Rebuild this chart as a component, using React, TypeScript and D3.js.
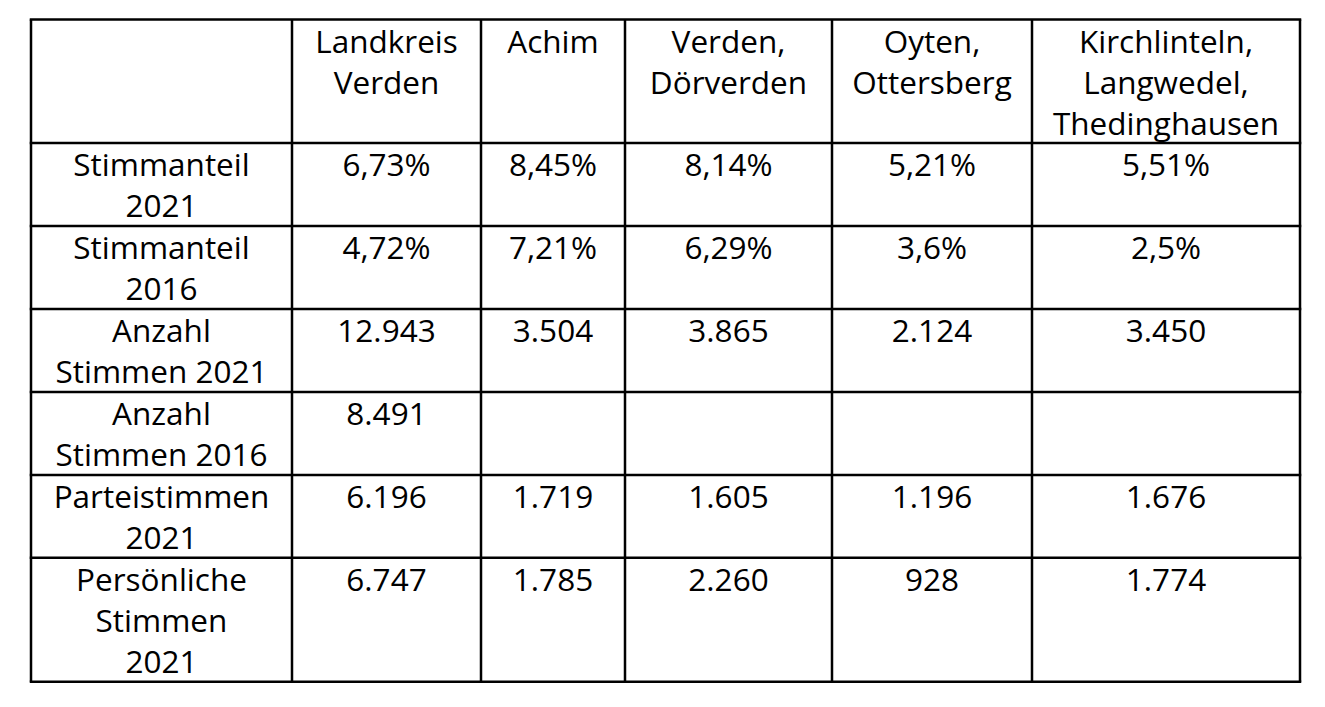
import { useEffect, useRef } from 'react';
import * as d3 from 'd3';

// header texts, one entry per column (lines split by \n)
const columnHeads = ['', 'Landkreis\nVerden', 'Achim', 'Verden,\nDörverden', 'Oyten,\nOttersberg', 'Kirchlinteln,\nLangwedel,\nThedinghausen'];
const rowHeads = ['Stimmanteil\n2021', 'Stimmanteil\n2016', 'Anzahl\nStimmen 2021', 'Anzahl\nStimmen 2016', 'Parteistimmen\n2021', 'Persönliche\nStimmen\n2021'];

const stimmanteil2021 = ['6,73%', '8,45%', '8,14%', '5,21%', '5,51%'];
const stimmanteil2016 = ['4,72%', '7,21%', '6,29%', '3,6%', '2,5%'];
const stimmen2021 = ['12.943', '3.504', '3.865', '2.124', '3.450'];
const stimmen2016 = ['8.491', '', '', '', ''];
const parteistimmen2021 = ['6.196', '1.719', '1.605', '1.196', '1.676'];
const persoenlich2021 = ['6.747', '1.785', '2.260', '928', '1.774'];

const rows = [stimmanteil2021, stimmanteil2016, stimmen2021, stimmen2016, parteistimmen2021, persoenlich2021];

export default function App() {
  const ref = useRef<SVGSVGElement>(null);

  useEffect(() => {
    const svg = d3.select(ref.current);
    svg.selectAll('*').remove();

    const left = 31, top = 19.5;
    const colW = [261, 189, 144, 207, 200, 268];
    const rowH = [123.5, 83, 83, 83, 83, 82.7, 124];
    const xs = [left, ...Array.from(d3.cumsum(colW), d => left + d)];
    const ys = [top, ...Array.from(d3.cumsum(rowH), d => top + d)];
    const lineH = 41;
    const firstBase = 33;

    const g = svg.append('g')
      .attr('font-family', '"Open Sans", sans-serif')
      .attr('font-size', 31.5)
      .attr('fill', '#000');

    // table contents: header row then data rows
    const cells: { c: number; r: number; text: string }[] = [];
    columnHeads.forEach((t, c) => cells.push({ c, r: 0, text: t }));
    rows.forEach((vals, i) => {
      cells.push({ c: 0, r: i + 1, text: rowHeads[i] });
      vals.forEach((v, j) => cells.push({ c: j + 1, r: i + 1, text: v }));
    });

    const txt = g.selectAll('text')
      .data(cells)
      .join('text')
      .attr('text-anchor', 'middle')
      .attr('x', d => (xs[d.c] + xs[d.c + 1]) / 2)
      .attr('y', d => ys[d.r] + firstBase);
    txt.selectAll('tspan')
      .data(d => d.text.split('\n').map((s, k) => ({ s, k, x: (xs[d.c] + xs[d.c + 1]) / 2 })))
      .join('tspan')
      .attr('x', d => d.x)
      .attr('dy', d => (d.k === 0 ? 0 : lineH))
      .text(d => d.s);

    // grid lines
    const grid = svg.append('g').attr('stroke', '#000').attr('stroke-width', 2.5);
    grid.selectAll('.v')
      .data(xs)
      .join('line')
      .attr('x1', d => d).attr('x2', d => d)
      .attr('y1', top).attr('y2', ys[ys.length - 1]);
    grid.selectAll('.h')
      .data(ys)
      .join('line')
      .attr('y1', d => d).attr('y2', d => d)
      .attr('x1', left - 1.25).attr('x2', xs[xs.length - 1] + 1.25);
  }, []);

  return (
    <svg ref={ref} width={1325} height={707} style={{ position: 'absolute', left: 0, top: 0, background: '#fff' }} />
  );
}
